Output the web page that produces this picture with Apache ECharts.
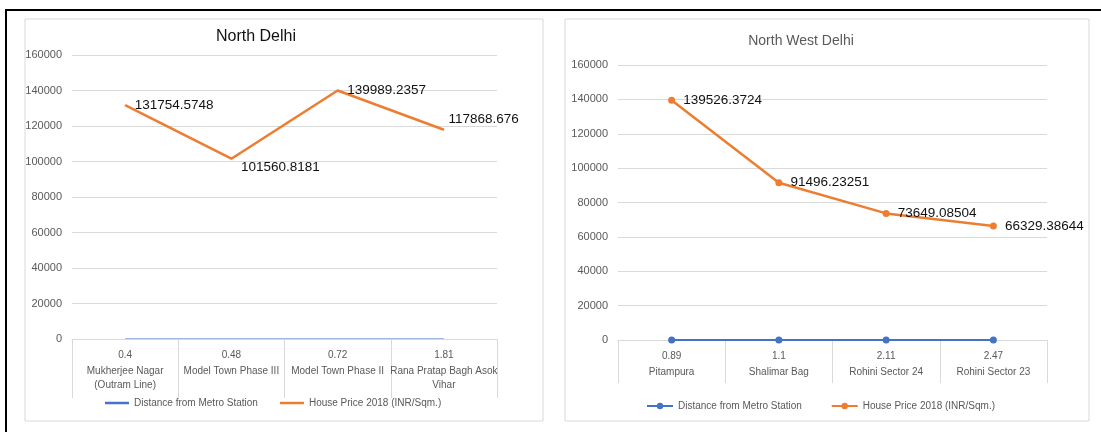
<!DOCTYPE html>
<html>
<head>
<meta charset="utf-8">
<script src="https://cdn.jsdelivr.net/npm/echarts@6/dist/echarts.min.js"></script>
<style>
  html, body { margin: 0; padding: 0; background: #fff; }
  #chart { width: 1101px; height: 432px; }
</style>
</head>
<body>
<div id="chart"></div>
<script>
// North Delhi
const northNames = ['Mukherjee Nagar\n(Outram Line)', 'Model Town Phase III', 'Model Town Phase II', 'Rana Pratap Bagh Asok\nVihar'];
const northDistance = [0.4, 0.48, 0.72, 1.81];
const northPrice = [131754.5748, 101560.8181, 139989.2357, 117868.676];

// North West Delhi
const nwNames = ['Pitampura', 'Shalimar Bag', 'Rohini Sector 24', 'Rohini Sector 23'];
const nwDistance = [0.89, 1.1, 2.11, 2.47];
const nwPrice = [139526.3724, 91496.23251, 73649.08504, 66329.38644];

const titles = ['North Delhi', 'North West Delhi'];
const seriesNames = ['Distance from Metro Station', 'House Price 2018 (INR/Sqm.)'];

const FONT = 'Liberation Sans, Arial, sans-serif';
const BLUE = '#4472C4';
const ORANGE = '#ED7D31';
const GRID = '#d9d9d9';
const TXT = '#595959';

function catLabels(distances) {
  return function (value, idx) {
    const lines = value.split('\n').map(s => '{n|' + s + '}');
    return '{d|' + distances[idx] + '}\n' + lines.join('\n');
  };
}

function xAxisFor(gridIndex, names, distances, tickLen, z) {
  return {
    type: 'category', gridIndex: gridIndex, data: names, boundaryGap: true, z: z,
    axisLine: { show: true, lineStyle: { color: GRID, width: 1 } },
    axisTick: { show: true, length: tickLen, lineStyle: { color: GRID } },
    axisLabel: {
      interval: 0, margin: 7, color: TXT, fontFamily: FONT,
      formatter: catLabels(distances),
      rich: {
        d: { fontSize: 10, lineHeight: 18, color: TXT, fontFamily: FONT },
        n: { fontSize: 10, lineHeight: 14, color: TXT, fontFamily: FONT }
      }
    }
  };
}

function yAxisFor(gridIndex) {
  return {
    type: 'value', gridIndex: gridIndex, min: 0, max: 160000, interval: 20000,
    axisLine: { show: false }, axisTick: { show: false },
    axisLabel: { color: TXT, fontSize: 11, fontFamily: FONT, margin: 10, formatter: v => String(v) },
    splitLine: { lineStyle: { color: GRID, width: 1 } }
  };
}

// label nudges for the North Delhi price points
const leftLabelOffsets = [[0, 0], [0, 9], [0, 0], [-5, -11]];

const option = {
  animation: false,
  backgroundColor: '#fff',
  textStyle: { fontFamily: FONT },
  graphic: [
    { type: 'rect', z: -5, shape: { x: 25, y: 19, width: 518, height: 402 }, style: { fill: '#fff', stroke: GRID, lineWidth: 1 } },
    { type: 'rect', z: -5, shape: { x: 565, y: 19, width: 524, height: 402 }, style: { fill: '#fff', stroke: GRID, lineWidth: 1 } },
    { type: 'line', z: 10, shape: { x1: 5, y1: 10, x2: 1101, y2: 10 }, style: { stroke: '#000', lineWidth: 2 } },
    { type: 'line', z: 10, shape: { x1: 6, y1: 10, x2: 6, y2: 432 }, style: { stroke: '#000', lineWidth: 2 } }
  ],
  title: [
    { text: titles[0], left: 251, top: 24, textAlign: 'center',
      textStyle: { fontSize: 16, fontWeight: 'normal', color: '#111', fontFamily: FONT } },
    { text: titles[1], left: 796, top: 29, textAlign: 'center',
      textStyle: { fontSize: 14, fontWeight: 'normal', color: TXT, fontFamily: FONT } }
  ],
  legend: [
    { left: 100, top: 393, itemWidth: 24, itemHeight: 2.5, itemGap: 22, icon: 'rect',
      textStyle: { fontSize: 10, color: TXT, fontFamily: FONT },
      data: [{ name: seriesNames[0] }, { name: seriesNames[1] }] },
    { left: 641, top: 396, itemWidth: 26, itemHeight: 8, itemGap: 26,
      textStyle: { fontSize: 10, color: TXT, fontFamily: FONT },
      data: [{ name: seriesNames[0] + ' ' }, { name: seriesNames[1] + ' ' }] }
  ],
  grid: [
    { left: 72, right: 1101 - 497, top: 55, bottom: 432 - 339 },
    { left: 618, right: 1101 - 1047, top: 65, bottom: 432 - 340 }
  ],
  xAxis: [
    xAxisFor(0, northNames, northDistance, 59, 3),
    xAxisFor(1, nwNames, nwDistance, 43, 0)
  ],
  yAxis: [yAxisFor(0), yAxisFor(1)],
  series: [
    {
      name: seriesNames[0], type: 'line', xAxisIndex: 0, yAxisIndex: 0, z: 1,
      data: northDistance, symbol: 'none',
      lineStyle: { color: BLUE, width: 1 }, itemStyle: { color: BLUE }
    },
    {
      name: seriesNames[1], type: 'line', xAxisIndex: 0, yAxisIndex: 0,
      symbol: 'circle', symbolSize: 1, showSymbol: true,
      data: northPrice.map((v, i) => ({
        value: v,
        label: { show: true, position: 'right', distance: 9, offset: leftLabelOffsets[i] }
      })),
      lineStyle: { color: ORANGE, width: 2.5 }, itemStyle: { color: ORANGE },
      label: { show: true, color: '#111', fontSize: 13.5, fontFamily: FONT, formatter: p => String(p.value) }
    },
    {
      name: seriesNames[0] + ' ', type: 'line', xAxisIndex: 1, yAxisIndex: 1,
      data: nwDistance, symbol: 'circle', symbolSize: 7,
      lineStyle: { color: BLUE, width: 2 }, itemStyle: { color: BLUE }
    },
    {
      name: seriesNames[1] + ' ', type: 'line', xAxisIndex: 1, yAxisIndex: 1,
      data: nwPrice, symbol: 'circle', symbolSize: 7,
      lineStyle: { color: ORANGE, width: 2.5 }, itemStyle: { color: ORANGE },
      label: { show: true, position: 'right', distance: 8, color: '#111', fontSize: 13.5, fontFamily: FONT,
        formatter: p => String(p.value) }
    }
  ]
};

const chart = echarts.init(document.getElementById('chart'), null, { renderer: 'canvas' });
chart.setOption(option);
</script>
</body>
</html>
